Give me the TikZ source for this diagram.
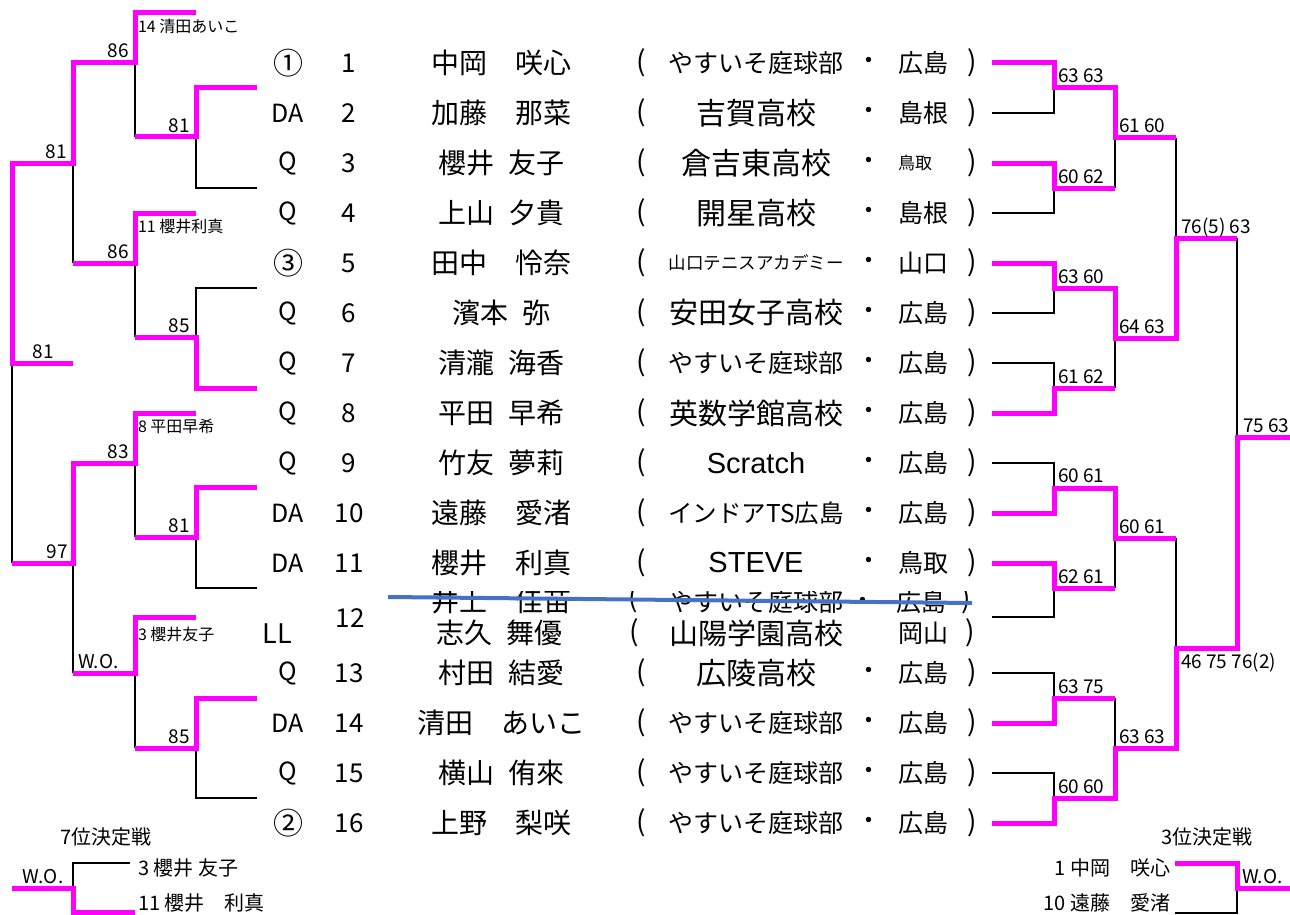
\documentclass[tikz,border=0pt]{standalone}
\usepackage{fontspec}
\setmainfont{Noto Sans CJK JP}
\newfontfamily\lat{Liberation Sans}
\definecolor{mag}{RGB}{255,0,255}
\definecolor{strk}{RGB}{68,114,196}
\newcommand{\fs}[1]{\fontsize{#1}{#1}\selectfont}
\newcommand{\cn}[1]{{\fs{30}#1}}
\tikzset{
  mg/.style={draw=mag, line width=5pt, line join=miter},
  bk/.style={draw=black, line width=2pt},
  tx/.style={inner sep=0pt, outer sep=0pt},
  big/.style={tx, font=\fs{28}},
  med/.style={tx, font=\fs{25}},
  num/.style={tx, font=\fs{26}},
  sc/.style={tx, font=\fs{19}},
  sm/.style={tx, font=\fs{16}},
  pl/.style={tx, font=\fs{20}},
}
\newcommand{\plrow}[9]{%
  \node[med] (sd#1) at (288,#2) {#3};
  \node[num] (no#1) at (349,#2) {#4};
  \node[big] (pn#1) at (501,#2) {#5};
  \node[big] (lp#1) at (641,#2) {(};
  \node[tx, font=\fs{#6}] (cl#1) at (756,#2) {#7};
  \node[med] (dt#1) at (869,#2) {・};
  \node[tx, font=\fs{#8}, anchor=west] (pf#1) at (898,#2) {#9};
  \node[big] (rp#1) at (972,#2) {)};
}
\begin{document}
\begin{tikzpicture}[x=1pt,y=-1pt]
\useasboundingbox (0,0) rectangle (1290,915);
\fill[white] (0,0) rectangle (1290,915);

% ---------- rows ----------
\plrow{1}{63}{\cn{①}}{1}{中岡　咲心}{25}{やすいそ庭球部}{25}{広島}
\plrow{2}{113}{DA}{2}{加藤　那菜}{30}{吉賀高校}{25}{島根}
\plrow{3}{163}{Q}{3}{櫻井\enspace 友子}{30}{倉吉東高校}{17}{鳥取}
\plrow{4}{213}{Q}{4}{上山\enspace 夕貴}{30}{開星高校}{25}{島根}
\plrow{5}{263}{\cn{③}}{5}{田中　怜奈}{17.5}{山口テニスアカデミー}{25}{山口}
\plrow{6}{313}{Q}{6}{濱本\enspace 弥}{29}{安田女子高校}{25}{広島}
\plrow{7}{363}{Q}{7}{清瀧\enspace 海香}{25}{やすいそ庭球部}{25}{広島}
\plrow{8}{413}{Q}{8}{平田\enspace 早希}{29}{英数学館高校}{25}{広島}
\plrow{9}{463}{Q}{9}{竹友\enspace 夢莉}{29}{{\lat Scratch}}{25}{広島}
\plrow{10}{513}{DA}{10}{遠藤　愛渚}{24.5}{インドアTS広島}{25}{広島}
\plrow{11}{563}{DA}{11}{櫻井　利真}{29}{{\lat STEVE}}{25}{鳥取}
\plrow{13}{673}{Q}{13}{村田\enspace 結愛}{30}{広陵高校}{25}{広島}
\plrow{14}{723}{DA}{14}{清田　あいこ}{25}{やすいそ庭球部}{25}{広島}
\plrow{15}{773}{Q}{15}{横山\enspace 侑來}{25}{やすいそ庭球部}{25}{広島}
\plrow{16}{823}{\cn{②}}{16}{上野　梨咲}{25}{やすいそ庭球部}{25}{広島}

% row 12 (withdrawn player, partly hidden)
\begin{scope}
  \clip (380,591) rectangle (1000,660);
  \node[big] (pn12a) at (501,601) {井上　佳苗};
  \node[big] (lp12a) at (633,599) {(};
  \node[tx,font=\fs{25}] (cl12a) at (756,602) {やすいそ庭球部};
  \node[med] (dt12a) at (863,603) {・};
  \node[med, anchor=west] (pf12a) at (896,602) {広島};
  \node[big] (rp12a) at (966,600) {)};
\end{scope}
\node[tx, font=\fs{27}] (sd12) at (277,634) {LL};
\node[num] (no12) at (350,618) {12};
\node[big] (pn12b) at (499,633) {志久\enspace 舞優};
\node[big] (lp12b) at (634,633) {(};
\node[tx,font=\fs{29}] (cl12b) at (756,633) {山陽学園高校};
\node[med, anchor=west] (pf12b) at (898,633) {岡山};
\node[big] (rp12b) at (970,633) {)};
\coordinate (s1) at (388,597);
\coordinate (s2) at (972,603);
\draw[strk, line width=4pt] (s1) -- (s2);

% ---------- right bracket: black ----------
\draw[bk] (992,113)--(1054,113)--(1054,88);
\draw[bk] (992,213)--(1054,213)--(1054,188);
\draw[bk] (992,313)--(1054,313)--(1054,288);
\draw[bk] (992,363)--(1054,363)--(1054,388);
\draw[bk] (992,463)--(1054,463)--(1054,488);
\draw[bk] (992,617)--(1054,617)--(1054,588);
\draw[bk] (992,673)--(1054,673)--(1054,698);
\draw[bk] (992,773)--(1054,773)--(1054,798);
\draw[bk] (1115,188)--(1115,138);
\draw[bk] (1115,388)--(1115,338);
\draw[bk] (1115,588)--(1115,538);
\draw[bk] (1115,698)--(1115,748);
\draw[bk] (1176,138)--(1176,238);
\draw[bk] (1176,538)--(1176,648);
\draw[bk] (1237,238)--(1237,437);
\draw[bk] (1175,913)--(1237,913)--(1237,888);

% ---------- right bracket: magenta ----------
\draw[mg] (992,63)--(1054,63)--(1054,88)--(1115,88)--(1115,138)--(1176,138);
\draw[mg] (992,163)--(1054,163)--(1054,188)--(1115,188);
\draw[mg] (992,263)--(1054,263)--(1054,288)--(1115,288)--(1115,338)--(1176,338)--(1176,238)--(1237,238);
\draw[mg] (992,413)--(1054,413)--(1054,388)--(1115,388);
\draw[mg] (992,513)--(1054,513)--(1054,488)--(1115,488)--(1115,538)--(1176,538);
\draw[mg] (992,563)--(1054,563)--(1054,588)--(1115,588);
\draw[mg] (992,723)--(1054,723)--(1054,698)--(1115,698);
\draw[mg] (992,823)--(1054,823)--(1054,798)--(1115,798)--(1115,748)--(1176,748)--(1176,648)--(1237,648)--(1237,437)--(1290,437);
\draw[mg] (1175,863)--(1237,863)--(1237,888)--(1290,888);

% ---------- left bracket: black ----------
\draw[bk] (257,188)--(196,188)--(196,137);
\draw[bk] (135,137)--(135,63);
\draw[bk] (257,288)--(196,288)--(196,337);
\draw[bk] (135,337)--(135,263);
\draw[bk] (73,263)--(73,163);
\draw[bk] (12,363)--(12,563);
\draw[bk] (135,537)--(135,463);
\draw[bk] (257,588)--(196,588)--(196,537);
\draw[bk] (73,563)--(73,673);
\draw[bk] (135,748)--(135,673);
\draw[bk] (257,798)--(196,798)--(196,748);
\draw[bk] (130,863)--(73,863)--(73,888);

% ---------- left bracket: magenta ----------
\draw[mg] (196,13)--(135,13)--(135,63)--(73,63)--(73,163)--(12,163)--(12,363)--(73,363);
\draw[mg] (257,88)--(196,88)--(196,137)--(135,137);
\draw[mg] (196,213)--(135,213)--(135,263)--(73,263);
\draw[mg] (257,388)--(196,388)--(196,337)--(135,337);
\draw[mg] (196,413)--(135,413)--(135,463)--(73,463)--(73,563)--(12,563);
\draw[mg] (257,487)--(196,487)--(196,537)--(135,537);
\draw[mg] (196,617)--(135,617)--(135,673)--(73,673);
\draw[mg] (257,698)--(196,698)--(196,748)--(135,748);
\draw[mg] (12,888)--(73,888)--(73,912)--(135,912);

% ---------- right scores ----------
\node[sc, anchor=base west] (r11) at (1058,83) {63 63};
\node[sc, anchor=base west] (r12) at (1058,183) {60 62};
\node[sc, anchor=base west] (r13) at (1058,283) {63 60};
\node[sc, anchor=base west] (r14) at (1058,383) {61 62};
\node[sc, anchor=base west] (r15) at (1058,482) {60 61};
\node[sc, anchor=base west] (r16) at (1058,583) {62 61};
\node[sc, anchor=base west] (r17) at (1058,693) {63 75};
\node[sc, anchor=base west] (r18) at (1058,793) {60 60};
\node[sc, anchor=base west] (r21) at (1119,133) {61 60};
\node[sc, anchor=base west] (r22) at (1119,333) {64 63};
\node[sc, anchor=base west] (r23) at (1119,533) {60 61};
\node[sc, anchor=base west] (r24) at (1119,743) {63 63};
\node[sc, anchor=base west] (r31) at (1181,233) {76(5) 63};
\node[sc, anchor=base west] (r32) at (1181,668) {46 75 76(2)};
\node[sc, anchor=base west] (r41) at (1243,432) {75 63};
\node[sc, anchor=base west] (r3p) at (1242,883) {W.O.};

% ---------- left scores ----------
\node[sc, anchor=base east] (l1) at (129,58) {86};
\node[sc, anchor=base east] (l2) at (190,132) {81};
\node[sc, anchor=base east] (l3) at (67,158) {81};
\node[sc, anchor=base east] (l4) at (129,258) {86};
\node[sc, anchor=base east] (l5) at (190,332) {85};
\node[sc, anchor=base] (l6) at (43,358) {81};
\node[sc, anchor=base east] (l7) at (129,458) {83};
\node[sc, anchor=base east] (l8) at (190,532) {81};
\node[sc, anchor=base east] (l9) at (68,558) {97};
\node[sc, anchor=base west] (l10) at (78,668) {W.O.};
\node[sc, anchor=base east] (l11) at (190,743) {85};
\node[sc, anchor=base] (l7p) at (43,883) {W.O.};

% ---------- left entrant labels ----------
\node[sm, anchor=west] (e1) at (138,26) {14 清田あいこ};
\node[sm, anchor=west] (e2) at (138,226) {11 櫻井利真};
\node[sm, anchor=west] (e3) at (138,426) {8 平田早希};
\node[sm, anchor=west] (e4) at (138,634) {3 櫻井友子};

% ---------- placement matches ----------
\node[pl] (t7) at (106,837) {7位決定戦};
\node[pl, anchor=west] (p7a) at (138,868) {3 櫻井 友子};
\node[pl, anchor=west] (p7b) at (138,903) {11 櫻井　利真};
\node[pl] (t3) at (1207,837) {3位決定戦};
\node[pl, anchor=east] (p3a) at (1170,868) {1 中岡　咲心};
\node[pl, anchor=east] (p3b) at (1170,903) {10 遠藤　愛渚};
\end{tikzpicture}
\end{document}
